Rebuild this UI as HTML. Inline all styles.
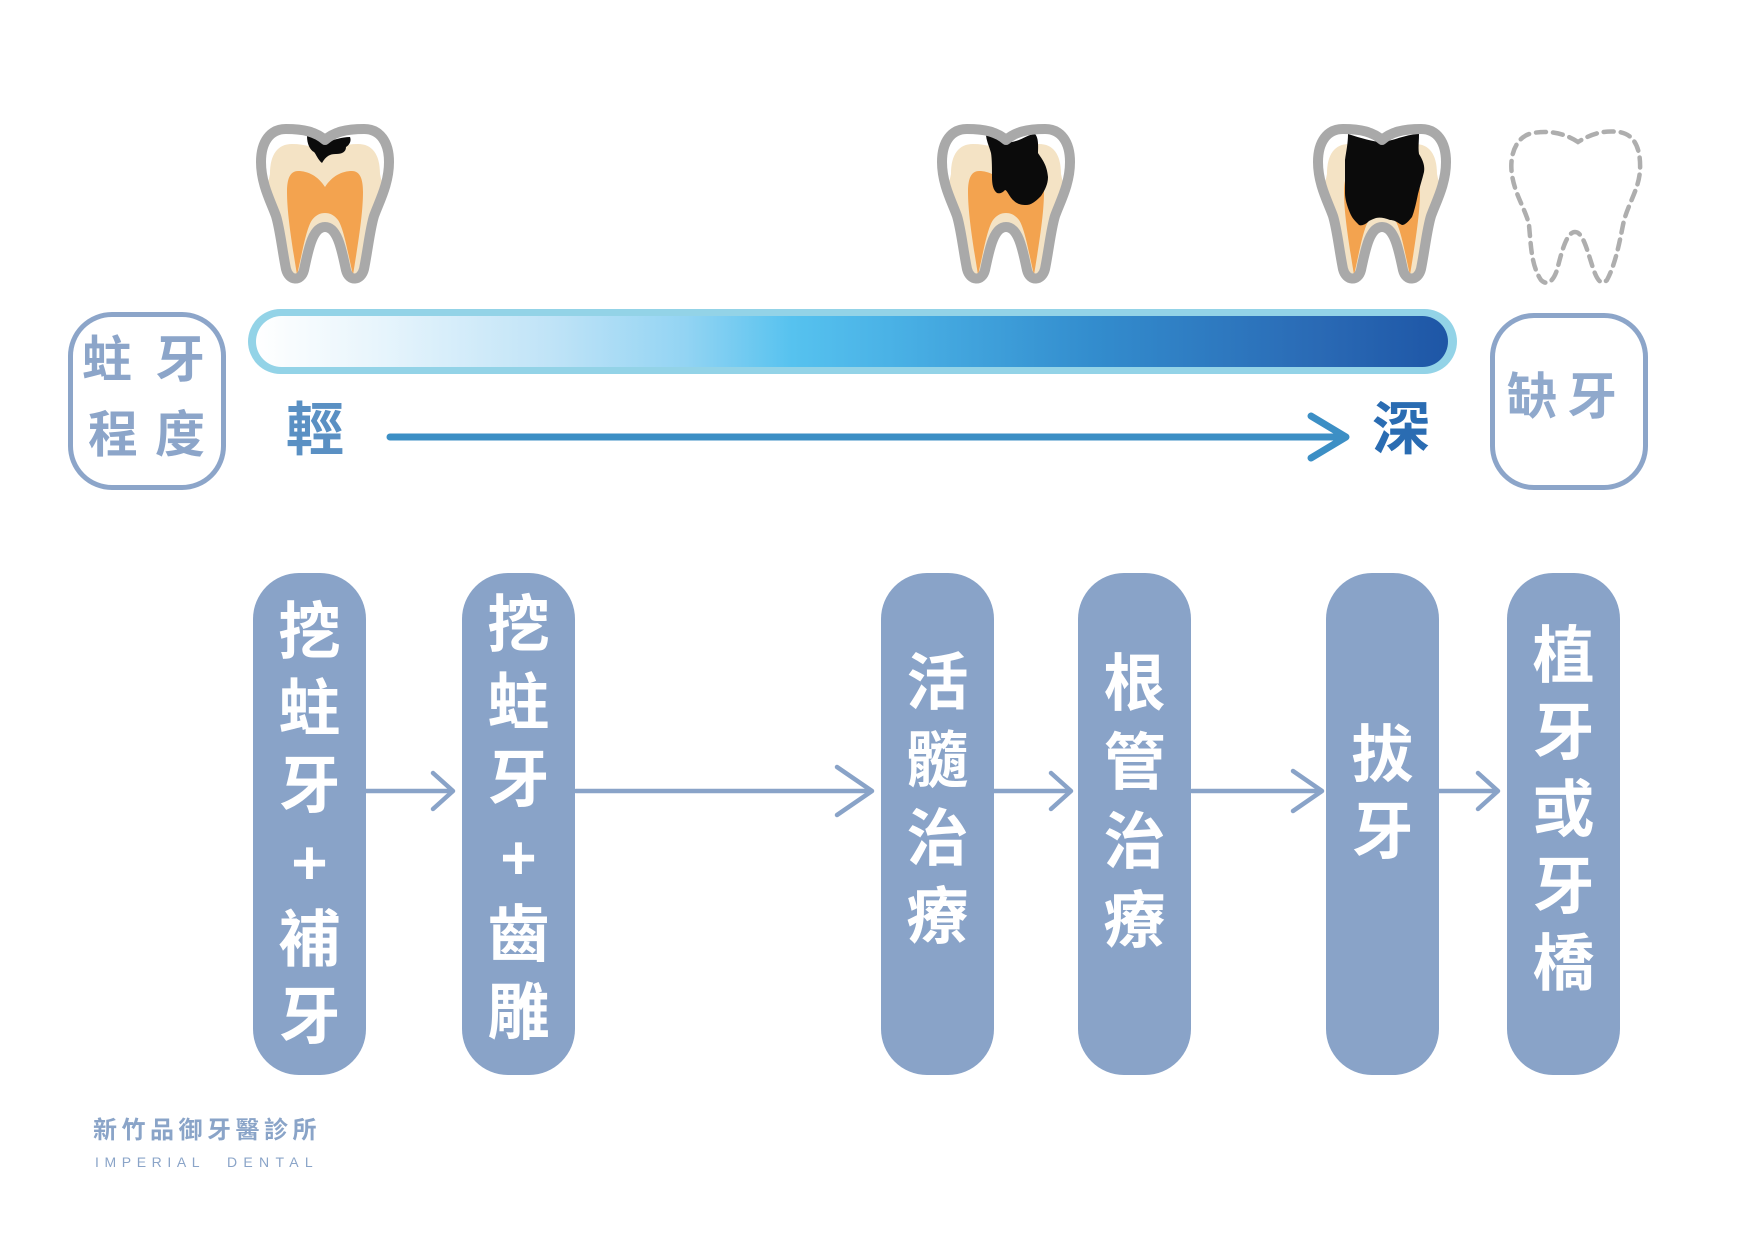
<!DOCTYPE html>
<html>
<head>
<meta charset="utf-8">
<style>
  html, body { margin:0; padding:0; background:#ffffff; }
  body { width:1754px; height:1241px; position:relative; overflow:hidden;
         font-family:"Liberation Sans","Noto Sans CJK TC",sans-serif; }
  .abs { position:absolute; }
  .box { position:absolute; border:5px solid #8ca5c9; border-radius:44px; box-sizing:border-box; background:#fff; }
  .lbl { position:absolute; font-family:"Liberation Sans","Noto Sans CJK TC",sans-serif; font-weight:700; line-height:1; white-space:nowrap; }
  .pill { position:absolute; top:573px; width:113px; height:502px; background:#89a3c8; border-radius:46px; }
  .ptxt { position:absolute; width:113px; text-align:center; color:#ffffff; font-size:62px; font-weight:700;
          font-family:"Liberation Sans","Noto Sans CJK TC",sans-serif; }
</style>
</head>
<body>

<svg class="abs" style="left:0;top:0" width="1754" height="1241" viewBox="0 0 1754 1241">
  <defs>
    <linearGradient id="bg" x1="0" y1="0" x2="1" y2="0">
      <stop offset="0" stop-color="#ffffff"/>
      <stop offset="0.10" stop-color="#e8f5fc"/>
      <stop offset="0.25" stop-color="#bfe3f7"/>
      <stop offset="0.36" stop-color="#93d4f3"/>
      <stop offset="0.45" stop-color="#56c2ef"/>
      <stop offset="0.53" stop-color="#4ab2e6"/>
      <stop offset="0.70" stop-color="#338dce"/>
      <stop offset="0.89" stop-color="#2a6ab5"/>
      <stop offset="1" stop-color="#1e56a6"/>
    </linearGradient>
    <path id="to" d="M 69 16 C 60 8, 48 5, 30 5 C 14 5, 5 18, 5 38 C 5 60, 15 78, 20 92 C 24 105, 26 125, 30 145 C 33 157, 45 158, 48 146 C 52 128, 56 103, 69 103 C 82 103, 86 128, 90 146 C 93 158, 105 157, 108 145 C 112 125, 114 105, 118 92 C 123 78, 133 60, 133 38 C 133 18, 124 5, 108 5 C 90 5, 78 8, 69 16 Z"/>
    <clipPath id="tc">
      <path d="M 69 16 C 60 8, 48 5, 30 5 C 14 5, 5 18, 5 38 C 5 60, 15 78, 20 92 C 24 105, 26 125, 30 145 C 33 157, 45 158, 48 146 C 52 128, 56 103, 69 103 C 82 103, 86 128, 90 146 C 93 158, 105 157, 108 145 C 112 125, 114 105, 118 92 C 123 78, 133 60, 133 38 C 133 18, 124 5, 108 5 C 90 5, 78 8, 69 16 Z"/>
    </clipPath>
    <path id="dent" d="M 14 50 C 14 30, 22 20, 36 20 C 50 20, 60 24, 69 28 C 78 24, 88 20, 102 20 C 116 20, 124 30, 124 50 L 150 170 L -12 170 Z"/>
    <path id="pulp" d="M 69 63 C 62 52, 52 47, 42 47 C 34 47, 31 55, 31 68 C 31 90, 36 120, 41 151 C 46 130, 50 105, 56 96 C 60 91, 64 89, 69 89 C 74 89, 78 91, 82 96 C 88 105, 92 130, 97 151 C 102 120, 107 90, 107 68 C 107 55, 104 47, 96 47 C 86 47, 76 52, 69 63 Z"/>
  </defs>

  <!-- Tooth 1 -->
  <g transform="translate(256,124)">
    <g clip-path="url(#tc)">
      <rect x="-10" y="-10" width="160" height="190" fill="#ffffff"/>
      <use href="#dent" fill="#f4e3c5"/>
      <use href="#pulp" fill="#f3a34f"/>
      <path d="M 51 12 C 58 14, 64 17, 70 18 C 78 16, 86 13, 94 13 C 96 18, 92 22, 90 23 C 90 28, 86 30, 80 30 C 74 30, 70 32, 66 39 C 62 36, 60 30, 58 28 C 54 26, 51 20, 51 12 Z" fill="#0b0b0b"/>
    </g>
    <use href="#to" fill="none" stroke="#a9a9a9" stroke-width="10" stroke-linejoin="round"/>
  </g>

  <!-- Tooth 2 -->
  <g transform="translate(937,124)">
    <g clip-path="url(#tc)">
      <rect x="-10" y="-10" width="160" height="190" fill="#ffffff"/>
      <use href="#dent" fill="#f4e3c5"/>
      <use href="#pulp" fill="#f3a34f"/>
      <path d="M 49 10 C 55 14, 65 18, 75 18 C 85 16, 92 10, 98 10 C 102 14, 101 24, 101 29 C 104 34, 110 40, 111 53 C 111 60, 108 66, 104 72 C 98 78, 94 81, 89 81 C 84 81, 80 80, 76 76 C 72 72, 70 66, 68 66 C 66 68, 64 70, 60 69 C 56 66, 55 60, 55 53 C 55 45, 55 35, 54 29 C 52 22, 49 16, 49 10 Z" fill="#0b0b0b"/>
    </g>
    <use href="#to" fill="none" stroke="#a9a9a9" stroke-width="10" stroke-linejoin="round"/>
  </g>

  <!-- Tooth 3 -->
  <g transform="translate(1313,124)">
    <g clip-path="url(#tc)">
      <rect x="-10" y="-10" width="160" height="190" fill="#ffffff"/>
      <use href="#dent" fill="#f4e3c5"/>
      <use href="#pulp" fill="#f3a34f"/>
      <path d="M 35 10 C 48 14, 60 18, 70 18 C 82 16, 95 10, 106 10 C 106 18, 105 24, 106 30 C 110 36, 112 42, 111 48 C 109 56, 107 62, 105 70 C 103 80, 101 88, 99 93 C 95 98, 92 101, 89 101 C 85 99, 82 96, 77 96 C 72 94, 67 93, 63 94 C 60 95, 58 96, 56 97 C 52 101, 48 102, 46 101 C 42 97, 39 94, 37 89 C 34 82, 32 75, 32 69 C 32 58, 32 46, 32 36 C 33 28, 35 20, 35 10 Z" fill="#0b0b0b"/>
    </g>
    <use href="#to" fill="none" stroke="#a9a9a9" stroke-width="10" stroke-linejoin="round"/>
  </g>

  <!-- Tooth 4 dashed (missing) -->
  <g transform="translate(1511,130)">
    <path d="M 67 12 C 55 4, 40 0, 22 3 C 5 6, -2 25, 1 45 C 4 65, 15 80, 18 95 C 20 115, 20 135, 30 150 C 36 156, 42 152, 46 140 C 50 125, 55 102, 64 102 C 72 102, 76 120, 82 138 C 86 150, 90 156, 96 150 C 104 135, 108 115, 112 95 C 116 75, 128 60, 129 40 C 130 20, 124 4, 108 2 C 92 0, 80 4, 67 12 Z"
      fill="none" stroke="#aeaeae" stroke-width="4.5" stroke-dasharray="10 7" stroke-linecap="round"/>
  </g>

  <!-- gradient bar -->
  <rect x="248" y="309" width="1209" height="65" rx="32.5" fill="#93d3e7"/>
  <rect x="256" y="316" width="1192" height="51" rx="25.5" fill="url(#bg)"/>

  <!-- top arrow -->
  <line x1="390" y1="437" x2="1342" y2="437" stroke="#3c8fc5" stroke-width="7" stroke-linecap="round"/>
  <polyline points="1311,416 1346,437 1311,458" fill="none" stroke="#3c8fc5" stroke-width="7" stroke-linecap="round" stroke-linejoin="round"/>

  <!-- bottom arrows -->
  <g stroke="#89a3c8" stroke-width="4.5" fill="none" stroke-linecap="round" stroke-linejoin="round">
    <line x1="365" y1="791" x2="451" y2="791"/>
    <polyline points="433,773 453,791 433,809"/>
    <line x1="576" y1="791" x2="870" y2="791"/>
    <polyline points="837,767 872,791 837,815"/>
    <line x1="993" y1="791" x2="1069" y2="791"/>
    <polyline points="1051,773 1071,791 1051,809"/>
    <line x1="1192" y1="791" x2="1320" y2="791"/>
    <polyline points="1293,771 1322,791 1293,811"/>
    <line x1="1439" y1="791" x2="1496" y2="791"/>
    <polyline points="1478,773 1498,791 1478,809"/>
  </g>
</svg>

<!-- left label box -->
<div class="box" style="left:68px;top:312px;width:158px;height:178px;"></div>
<div class="lbl" style="left:82px;top:335px;font-size:50px;color:#8ca5c9;">蛀</div>
<div class="lbl" style="left:155px;top:335px;font-size:50px;color:#8ca5c9;">牙</div>
<div class="lbl" style="left:88px;top:410px;font-size:50px;color:#8ca5c9;">程</div>
<div class="lbl" style="left:155px;top:410px;font-size:50px;color:#8ca5c9;">度</div>

<!-- right label box -->
<div class="box" style="left:1490px;top:313px;width:158px;height:177px;"></div>
<div class="lbl" style="left:1507px;top:372px;font-size:50px;color:#90a9cc;">缺</div>
<div class="lbl" style="left:1567px;top:372px;font-size:50px;color:#90a9cc;">牙</div>

<!-- light / deep -->
<div class="lbl" style="left:286px;top:402px;font-size:58px;color:#5a90c3;">輕</div>
<div class="lbl" style="left:1372px;top:401px;font-size:58px;color:#2a6cb2;">深</div>

<!-- pills -->
<div class="pill" style="left:253px;"></div>
<div class="pill" style="left:462px;"></div>
<div class="pill" style="left:881px;"></div>
<div class="pill" style="left:1078px;"></div>
<div class="pill" style="left:1326px;"></div>
<div class="pill" style="left:1507px;"></div>

<div class="ptxt" style="left:253px;top:594px;line-height:77px;">挖<br>蛀<br>牙<br>+<br>補<br>牙</div>
<div class="ptxt" style="left:462px;top:587px;line-height:77.5px;">挖<br>蛀<br>牙<br>+<br>齒<br>雕</div>
<div class="ptxt" style="left:881px;top:645px;line-height:78px;">活<br>髓<br>治<br>療</div>
<div class="ptxt" style="left:1078px;top:645px;line-height:79px;">根<br>管<br>治<br>療</div>
<div class="ptxt" style="left:1326px;top:717px;line-height:77px;">拔<br>牙</div>
<div class="ptxt" style="left:1507px;top:618px;line-height:77px;">植<br>牙<br>或<br>牙<br>橋</div>

<!-- footer -->
<div class="lbl" style="left:93px;top:1119px;font-size:24px;line-height:24px;letter-spacing:4.5px;color:#8aa4c8;">新竹品御牙醫診所</div>
<div class="abs" style="left:95px;top:1155px;font-size:14px;line-height:14px;letter-spacing:5.6px;color:#8aa4c8;font-family:'Liberation Sans',sans-serif;white-space:nowrap;">IMPERIAL</div>
<div class="abs" style="left:227px;top:1155px;font-size:14px;line-height:14px;letter-spacing:6.3px;color:#8aa4c8;font-family:'Liberation Sans',sans-serif;white-space:nowrap;">DENTAL</div>

</body>
</html>
